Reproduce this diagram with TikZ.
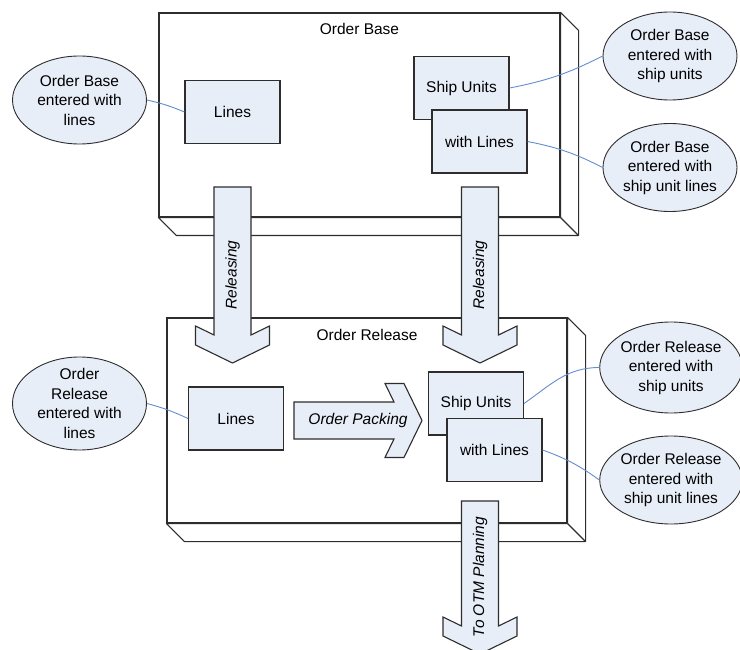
\documentclass[tikz,border=0pt]{standalone}
\usepackage{fontspec}
\setmainfont{Liberation Sans}
\usepackage{tikz}
\usetikzlibrary{shapes.geometric,calc,positioning}
\definecolor{boxfill}{RGB}{232,238,248}
\definecolor{edge}{RGB}{45,45,45}
\definecolor{linkblue}{RGB}{100,140,208}
\newcommand{\blockarrow}[3]{%
  \draw[blockarrow, shift={#1}, rotate=#2] (0,-18.5) -- (#3-28,-18.5) -- (#3-37,-37) -- (#3-18,-37) -- (#3,0)
    -- (#3-18,37) -- (#3-37,37) -- (#3-28,18.5) -- (0,18.5) -- cycle;}

\begin{document}
\begin{tikzpicture}[x=1pt, y=-1pt, font=\fontsize{15.5}{19.5}\selectfont,
  frame/.style={rectangle, draw=edge, fill=white, line width=1.1pt, minimum width=401pt, minimum height=204pt},
  face/.style={draw=edge, fill=white, line width=1.1pt, line join=round},
  box/.style={rectangle, draw=edge, fill=boxfill, line width=1.1pt, minimum width=95pt, minimum height=63pt},
  note/.style={ellipse, draw=edge, fill=boxfill, line width=0.9pt, minimum width=134pt, minimum height=88pt, inner sep=0pt, align=center},
  link/.style={draw=linkblue, line width=0.9pt},
  blockarrow/.style={draw=edge, fill=boxfill, line width=1.1pt, line join=miter},
  arrowtext/.style={font=\fontsize{15.5}{19.5}\selectfont\itshape}]
\useasboundingbox (0,0) rectangle (740,650);
% frames
\node[frame] (base) at (359.5,115) {};
\node[frame, minimum width=400pt, minimum height=205pt] (release) at (367,420.5) {};
\foreach \f in {base,release} {
  \draw[face] (\f.north east) -- ++(18,18) -- ($(\f.south east)+(18,18)$) -- ($(\f.south west)+(18,18)$) -- (\f.south west) -- (\f.south east) -- cycle;
  \draw[face] (\f.south east) -- ++(18,18);
}
\node (baseTitle) at ($(base.north)+(0,17)$) {Order Base};
\node (releaseTitle) at ($(release.north)+(0,18)$) {Order Release};
% boxes
\node[box] (baseLines) at (232.5,112) {Lines};
\node[box] (baseShip) at (461.5,88) {Ship Units};
\node[box] (baseShipLines) at (479.5,141.5) {with Lines};
\node[box] (relLines) at (236,418.5) {Lines};
\node[box] (relShip) at (476,403.5) {Ship Units};
\node[box] (relShipLines) at (494.5,450) {with Lines};
% notes
\node[note] (baseLinesNote) at (79.5,100) {Order Base\\entered with\\lines};
\node[note] (baseShipNote) at (670,56) {Order Base\\entered with\\ship units};
\node[note] (baseShipLinesNote) at (670,167.5) {Order Base\\entered with\\ship unit lines};
\node[note, minimum height=93pt, inner ysep=-6pt] (relLinesNote) at (79.5,403.5) {Order\\Release\\entered with\\lines};
\node[note, minimum height=91pt] (relShipNote) at (671,367.5) {Order Release\\entered with\\ship units};
\node[note] (relShipLinesNote) at (671,480) {Order Release\\entered with\\ship unit lines};
\draw[link] (baseLinesNote.east) to[bend left=5] (baseLines.west);
\draw[link] (baseShip.east) to[bend right=8] (baseShipNote.west);
\draw[link] (baseShipLines.east) to[bend left=8] (baseShipLinesNote.west);
\draw[link] (relLinesNote.east) to[bend left=5] (relLines.west);
\draw[link] (relShip.east) to[out=35, in=180] (relShipNote.west);
\draw[link] (relShipLines.east) to[bend left=8] (relShipLinesNote.west);
% block arrows
\blockarrow{(232.5,187)}{-90}{176}
\blockarrow{(480,187)}{-90}{176}
\blockarrow{(294,420.5)}{0}{128}
\blockarrow{(480,501)}{-90}{153}
\node[arrowtext, rotate=90] (releasingLeft) at (232.5,275) {Releasing};
\node[arrowtext, rotate=90] (releasingRight) at (480,275) {Releasing};
\node[arrowtext] (packing) at (358,420.5) {Order Packing};
\node[arrowtext, rotate=90] (planning) at (480,577) {To OTM Planning};
\end{tikzpicture}
\end{document}
